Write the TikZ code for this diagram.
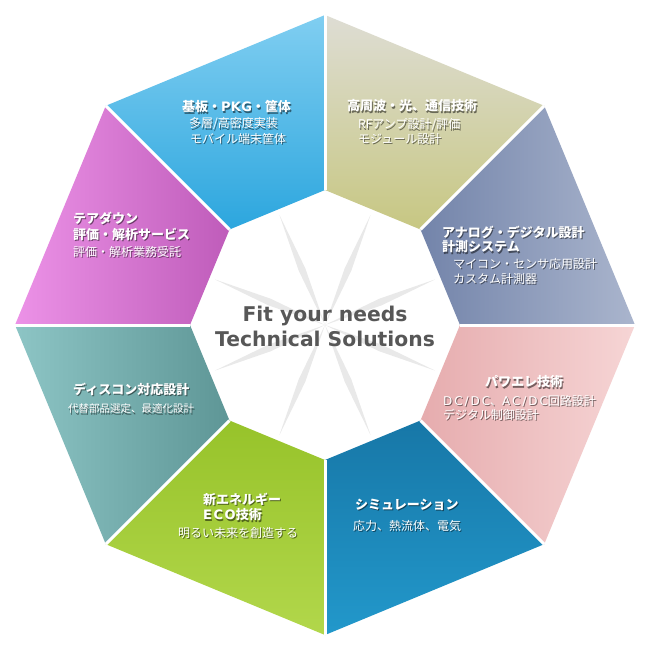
\documentclass[tikz,border=0pt]{standalone}
\usepackage{fontspec}
\newfontfamily\jp{Noto Sans CJK JP}
\newfontfamily\lat{DejaVu Sans}
\newfontfamily\dvl{DejaVu Sans}[LetterSpace=16]
\newfontfamily\dvb{DejaVu Sans}[LetterSpace=12]
\newfontfamily\dvp{DejaVu Sans}[LetterSpace=2]
\definecolor{gbL}{HTML}{7384AA}
\definecolor{gbR}{HTML}{AAB5CD}
\definecolor{khT}{HTML}{DEDDD4}
\definecolor{khB}{HTML}{C7C782}
\definecolor{blT}{HTML}{80CEF1}
\definecolor{blB}{HTML}{2CA6DE}
\definecolor{mgL}{HTML}{EC92E7}
\definecolor{mgR}{HTML}{BF5CBA}
\definecolor{tgL}{HTML}{8DC5C5}
\definecolor{tgR}{HTML}{5E9696}
\definecolor{grT}{HTML}{97C32A}
\definecolor{grB}{HTML}{B2D74B}
\definecolor{tbT}{HTML}{1777A7}
\definecolor{tbB}{HTML}{2298CB}
\definecolor{pkL}{HTML}{E6ACAE}
\definecolor{pkR}{HTML}{F6D5D5}
\definecolor{ctext}{HTML}{575757}
\definecolor{spikegray}{HTML}{E9E9E9}
\tikzset{
  lbl/.style={anchor=west, inner sep=0pt, text=white},
  shd/.style={anchor=west, inner sep=0pt, text=black, opacity=0.5, xshift=1pt, yshift=-1.2pt},
  hd/.style={font=\jp\bfseries\fontsize{13}{15}\selectfont},
  sb/.style={font=\jp\fontsize{12}{14}\selectfont},
  sbs/.style={font=\jp\fontsize{10.5}{13}\selectfont},
  gap/.style={draw=white, line width=3pt},
  spike/.style={fill=spikegray},
  ctr/.style={anchor=base, inner sep=0pt, text=ctext, font=\lat\bfseries\fontsize{20.3}{24}\selectfont}
}
\newcommand\tx[5]{%
  \node[shd,#2] (#1s) at (#3,#4) {#5};
  \node[lbl,#2] (#1) at (#3,#4) {#5};}
\begin{document}
\begin{tikzpicture}[x=1pt,y=-1pt]
\useasboundingbox (0,0) rectangle (650,650);
\fill[white] (0,0) rectangle (650,650);
% outer vertices
\coordinate (O0) at (635,325);
\coordinate (O1) at (544.2,105.8);
\coordinate (O2) at (325,15);
\coordinate (O3) at (105.8,105.8);
\coordinate (O4) at (15,325);
\coordinate (O5) at (105.8,544.2);
\coordinate (O6) at (325,635);
\coordinate (O7) at (544.2,544.2);
% inner vertices
\coordinate (I0) at (460,325);
\coordinate (I1) at (420.5,229.5);
\coordinate (I2) at (325,190);
\coordinate (I3) at (229.5,229.5);
\coordinate (I4) at (190,325);
\coordinate (I5) at (229.5,420.5);
\coordinate (I6) at (325,460);
\coordinate (I7) at (420.5,420.5);
\coordinate (C) at (325,325);
% starburst
\begin{scope}[shift={(C)}]
\foreach \a in {22.5,67.5,112.5,157.5,202.5,247.5,292.5,337.5}
  \fill[spike, rotate=\a] (0,0) -- (60,3.5) -- (119,0) -- (60,-3.5) -- cycle;
\end{scope}
% segments
\shade[left color=gbL, right color=gbR] (I0) -- (O0) -- (O1) -- (I1) -- cycle;
\shade[top color=khT, bottom color=khB] (I1) -- (O1) -- (O2) -- (I2) -- cycle;
\shade[top color=blT, bottom color=blB] (I2) -- (O2) -- (O3) -- (I3) -- cycle;
\shade[left color=mgL, right color=mgR] (I3) -- (O3) -- (O4) -- (I4) -- cycle;
\shade[left color=tgL, right color=tgR] (I4) -- (O4) -- (O5) -- (I5) -- cycle;
\shade[top color=grT, bottom color=grB] (I5) -- (O5) -- (O6) -- (I6) -- cycle;
\shade[top color=tbT, bottom color=tbB] (I6) -- (O6) -- (O7) -- (I7) -- cycle;
\shade[left color=pkL, right color=pkR] (I7) -- (O7) -- (O0) -- (I0) -- cycle;
% gaps
\foreach \k in {0,...,7} \draw[gap] (I\k) -- (O\k);
% labels
\tx{b1}{hd}{182}{107}{基板・{\dvp PKG}・筐体}
\tx{b2}{sb}{189}{124}{多層/高密度実装}
\tx{b3}{sb}{190}{139}{モバイル端末筐体}
\tx{k1}{hd}{347}{106}{高周波・光、通信技術}
\tx{k2}{sb}{358}{125}{RFアンプ設計/評価}
\tx{k3}{sb}{358}{139}{モジュール設計}
\tx{m1}{hd}{73}{218}{テアダウン}
\tx{m2}{hd}{73}{234}{評価・解析サービス}
\tx{m3}{sb}{73}{252}{評価・解析業務受託}
\tx{g1}{hd}{442}{232}{アナログ・デジタル設計}
\tx{g2}{hd}{442}{247}{計測システム}
\tx{g3}{sb}{453}{264}{マイコン・センサ応用設計}
\tx{g4}{sb}{453}{279}{カスタム計測器}
\tx{t1}{hd}{73}{389}{ディスコン対応設計}
\tx{t2}{sbs}{68}{409}{代替部品選定、最適化設計}
\tx{p1}{hd}{485}{382}{パワエレ技術}
\tx{p2}{sb}{443}{401}{{\dvl DC/DC}、{\dvl AC/DC}回路設計}
\tx{p3}{sb}{443}{415}{デジタル制御設計}
\tx{e1}{hd}{203}{499}{新エネルギー}
\tx{e2}{hd}{203}{515}{{\dvb ECO}技術}
\tx{e3}{sb}{178}{533}{明るい未来を創造する}
\tx{s1}{hd}{355}{505}{シミュレーション}
\tx{s2}{sb}{353}{526}{応力、熱流体、電気}
% centre text
\node[ctr] (c1) at (325,321.5) {Fit your needs};
\node[ctr] (c2) at (325,346) {Technical Solutions};
\end{tikzpicture}
\end{document}
